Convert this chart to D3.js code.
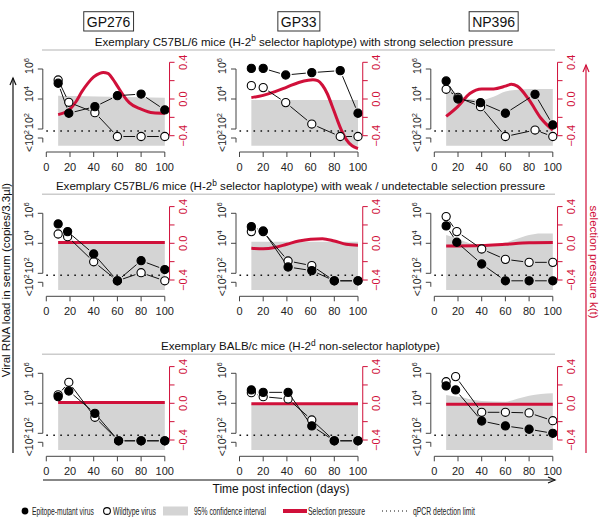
<!DOCTYPE html>
<html><head><meta charset="utf-8">
<script src="https://cdn.jsdelivr.net/npm/d3@7"></script>
<style>body{margin:0;background:#fff} text{font-family:"Liberation Sans",Arial,Helvetica,sans-serif}</style>
</head><body><svg id="c" width="600" height="518"></svg>
<script>
// ---------------- data ----------------
const columns = ["GP276", "GP33", "NP396"];
const titleMain = ["Exemplary C57BL/6 mice (H-2", "Exemplary C57BL/6 mice (H-2", "Exemplary BALB/c mice (H-2"];
const titleSup = ["b", "b", "d"];
const titleEnd = [" selector haplotype) with strong selection pressure",
                  " selector haplotype) with weak / undetectable selection pressure",
                  " non-selector haplotype)"];
const xTicks = [0, 20, 40, 60, 80, 100];
const yTicks = [2, 4, 6];            // log10 copies
const kTicks = [-0.4, -0.2, 0, 0.2, 0.4];
const kTickLabels = ["\u22120.4", "", "0.0", "", "0.4"];
const BDL = 1.5;                     // plotted position of "<10^2"
const LOD = 1.87;                    // qPCR detection limit (log10)
const legendLabels = ["Epitope-mutant virus", "Wildtype virus", "95% confidence interval", "Selection pressure", "qPCR detection limit"];

// indexed [row][col]
const mutantDays = [
  [[10,19,41,60,80,100],[10,20,39,61,85,100],[10,20,39,60,85,100]],
  [[10,18,40,60,80,100],[10,20,41,61,80,100],[10,19,40,60,80,100]],
  [[10,19,41,61,80,100],[10,20,41,61,80,100],[10,18,40,60,80,100]]];
const mutantLog = [
  [[5.05,3.05,3.49,4.22,4.33,3.27],[6.04,6.04,5.6,5.76,5.89,3.05],[5.2,4.0,3.76,3.05,4.31,2.27]],
  [[5.29,4.78,3.29,BDL,2.84,2.25],[5.11,4.82,2.42,2.18,BDL,BDL],[5.16,4.07,2.62,BDL,BDL,BDL]],
  [[4.44,4.82,3.33,BDL,BDL,BDL],[4.89,4.73,4.73,2.49,BDL,BDL],[5.16,4.89,2.82,2.49,2.27,2.0]]];
const wildDays = mutantDays;
const wildLog = [
  [[5.27,3.78,3.09,BDL,BDL,BDL],[4.89,4.76,3.76,2.33,BDL,BDL],[4.65,4.11,3.49,BDL,1.93,BDL]],
  [[4.62,4.44,2.77,BDL,2.04,BDL],[4.78,4.78,2.82,2.51,BDL,BDL],[5.78,4.78,3.62,2.93,2.73,2.73]],
  [[4.56,5.4,3.07,BDL,BDL,BDL],[4.71,4.44,4.29,2.89,BDL,BDL],[5.44,5.78,3.4,3.4,3.36,2.84]]];
const ciDays = [
  [[10,100],[10,100],[10,15,20,30,40,50,60,70,80,100]],
  [[10,100],[10,100],[10,20,30,40,50,60,70,80,90,100]],
  [[10,100],[10,100],[10,20,40,60,70,80,90,100]]];
const ciUpper = [
  [[4.22,4.09],[3.93,3.93],[4.75,4.6,4.3,4.0,3.95,4.15,4.5,4.62,4.66,4.67]],
  [[4.15,4.15],[4.11,4.11],[4.55,4.3,4.0,3.9,3.95,4.05,4.3,4.55,4.65,4.65]],
  [[4.11,4.11],[3.93,3.93],[4.56,4.44,4.16,4.11,4.3,4.5,4.62,4.67]]];
const kDays = [
  [[10,15,20,25,30,35,40,45,48,52,56,60,65,70,80,90,100],
   [10,20,30,40,50,58,62,66,70,74,78,82,86,90,95,100],
   [10,20,30,40,50,60,65,70,80,90,100]],
  [[10,100],[10,20,30,40,50,60,70,80,90,100],[10,40,60,80,100]],
  [[10,100],[10,100],[10,100]]];
const kValues = [
  [[-0.17,-0.15,-0.11,-0.03,0.08,0.17,0.24,0.28,0.29,0.28,0.22,0.14,0.04,-0.04,-0.11,-0.15,-0.155],
   [0.015,0.04,0.08,0.13,0.18,0.205,0.21,0.2,0.15,0.06,-0.07,-0.21,-0.34,-0.44,-0.51,-0.54],
   [-0.19,-0.08,0.06,0.11,0.11,0.14,0.16,0.14,-0.01,-0.21,-0.34]],
  [[0.01,0.01],[-0.055,-0.06,-0.045,-0.01,0.025,0.045,0.05,0.025,-0.01,-0.02],[-0.03,-0.025,-0.01,0.005,0.008]],
  [[0.01,0.01],[-0.005,-0.005],[-0.01,-0.01]]];

// ---------------- layout ----------------
const RED = "#d0103a", GREY = "#d4d4d4", AX = "#444";
const colX0 = [46.3, 239.5, 434.3];
const PX_PER_DAY = 1.185;
const rowY6 = [69, 213.3, 373.3];
const PX_PER_DECADE = 15;
const Y_BOTTOM = 0.887;
const yLabelShift = {6: -3, 4: -5, 2: -8};

const svg = d3.select("#c");
svg.append("rect").attr("width",600).attr("height",518).attr("fill","#fff");

function supLabel(g, x, y, base, sup, size, rot, color) {
  const t = g.append("text").attr("transform", `translate(${x},${y}) rotate(${rot})`)
    .attr("text-anchor","middle").attr("font-size",size).attr("fill",color);
  t.append("tspan").text(base);
  t.append("tspan").attr("dy",-size*0.4).attr("font-size",size*0.72).text(sup);
  return t;
}

function makeTitle(r, fs, cx, by) {
  const tt = svg.append("text").attr("x", cx).attr("y", by).attr("text-anchor","middle")
    .attr("font-size", fs).attr("fill","#111");
  tt.append("tspan").text(titleMain[r]);
  tt.append("tspan").attr("dy",-fs*0.4).attr("font-size",fs*0.72).text(titleSup[r]);
  tt.append("tspan").attr("dy",fs*0.4).text(titleEnd[r]);
  return tt;
}
const probe = makeTitle(1, 12, -1000, -1000);
const titleFS = 12 * 490 / probe.node().getComputedTextLength();
probe.remove();
const titleCX = [304, 300.5, 300.5];

for (let r = 0; r < 3; r++) {
  const y6 = rowY6[r];
  const y = d3.scaleLinear().domain([6, 2]).range([y6, y6 + 4*PX_PER_DECADE]);
  const yk = d3.scaleLinear().domain([0, 0.4]).range([y(4), y(4) - 36.7]);

  makeTitle(r, titleFS, titleCX[r], y6 - 23);
  svg.append("line").attr("x1",42).attr("x2",555).attr("y1",y6-19).attr("y2",y6-19)
    .attr("stroke","#cccccc").attr("stroke-width",1.5);

  for (let c = 0; c < 3; c++) {
    const x = d3.scaleLinear().domain([0,100]).range([colX0[c], colX0[c] + 100*PX_PER_DAY]);
    const g = svg.append("g");

    const ci = ciDays[r][c].map((d,i)=>[d, ciUpper[r][c][i]]);
    g.append("path").datum(ci).attr("fill", GREY)
      .attr("d", d3.area().x(d=>x(d[0])).y0(y(Y_BOTTOM)).y1(d=>y(d[1])).curve(d3.curveMonotoneX));

    g.append("line").attr("x1",x(0)).attr("x2",x(100)).attr("y1",y(LOD)).attr("y2",y(LOD))
      .attr("stroke","#111").attr("stroke-width",1.6).attr("stroke-dasharray","1.6,5.4");

    const kd = kDays[r][c].map((d,i)=>[d, kValues[r][c][i]]);
    g.append("path").datum(kd).attr("fill","none").attr("stroke",RED).attr("stroke-width",3)
      .attr("d", d3.line().x(d=>x(d[0])).y(d=>yk(d[1])).curve(d3.curveMonotoneX));

    const series = [
      {days: wildDays[r][c], vals: wildLog[r][c], fill: "#fff"},
      {days: mutantDays[r][c], vals: mutantLog[r][c], fill: "#000"}];
    series.forEach(s => {
      const pts = s.days.map((d,i)=>[x(d), y(s.vals[i])]);
      for (let i = 0; i < pts.length-1; i++) {
        const [x1,y1] = pts[i], [x2,y2] = pts[i+1];
        const dx = x2-x1, dy = y2-y1, L = Math.hypot(dx,dy), gap = 6;
        if (L > 2*gap) {
          g.append("line").attr("x1", x1+dx/L*gap).attr("y1", y1+dy/L*gap)
            .attr("x2", x2-dx/L*gap).attr("y2", y2-dy/L*gap)
            .attr("stroke","#111").attr("stroke-width",1);
        }
      }
    });
    series.forEach(s => {
      g.selectAll(null).data(s.days.map((d,i)=>[d, s.vals[i]])).enter().append("circle")
        .attr("cx", d=>x(d[0])).attr("cy", d=>y(d[1])).attr("r",4.1)
        .attr("fill", s.fill).attr("stroke","#000").attr("stroke-width",1.1);
    });

    // left axis
    const ax = x(0) - 3.5;
    g.append("line").attr("x1",ax).attr("x2",ax).attr("y1",y(6)).attr("y2",y(2)).attr("stroke",AX);
    yTicks.forEach(t => {
      g.append("line").attr("x1",ax-5).attr("x2",ax).attr("y1",y(t)).attr("y2",y(t)).attr("stroke",AX);
      supLabel(g, ax-10, y(t) + yLabelShift[t], "10", String(t), 10.5, -90, "#222");
    });
    g.append("line").attr("x1",ax).attr("x2",ax).attr("y1",y(1.4)).attr("y2",y(1.1)).attr("stroke",AX);
    g.append("line").attr("x1",ax-5).attr("x2",ax).attr("y1",y(1.4)).attr("y2",y(1.4)).attr("stroke",AX);
    supLabel(g, ax-10, y6 + 72, "<10", "2", 10.5, -90, "#222");

    // x axis
    const xa = y6 + 83;
    g.append("line").attr("x1",x(0)).attr("x2",x(100)).attr("y1",xa).attr("y2",xa).attr("stroke",AX);
    xTicks.forEach(t => {
      g.append("line").attr("x1",x(t)).attr("x2",x(t)).attr("y1",xa).attr("y2",xa+5).attr("stroke",AX);
      g.append("text").attr("x",x(t)).attr("y",xa+19).attr("text-anchor","middle")
        .attr("font-size",11).attr("fill","#222").text(t);
    });

    // right (red) axis
    const rx = x(104);
    g.append("line").attr("x1",rx).attr("x2",rx).attr("y1",yk(-0.4)).attr("y2",yk(0.4)).attr("stroke",RED);
    kTicks.forEach((t,i) => {
      g.append("line").attr("x1",rx).attr("x2",rx+5).attr("y1",yk(t)).attr("y2",yk(t)).attr("stroke",RED);
      if (kTickLabels[i]) g.append("text").attr("transform",`translate(${rx+17},${yk(t)}) rotate(-90)`)
        .attr("text-anchor","middle").attr("font-size",11).attr("fill",RED).text(kTickLabels[i]);
    });

    if (r === 0) {
      const cx = x(50) + (c===0?3:0);
      const ht = svg.append("text").attr("x",cx).attr("y",26.5).attr("text-anchor","middle")
        .attr("font-size",14).attr("fill","#111").text(columns[c]);
      const bb = ht.node().getBBox();
      svg.append("rect").attr("x",bb.x-3).attr("y",11.7).attr("width",bb.width+6).attr("height",19.3)
        .attr("fill","none").attr("stroke","#333").attr("stroke-width",1);
    }
  }
}

function arrowHead(x, y, dir, color) {
  const p = dir === "up" ? `M${x-3},${y+7}L${x},${y}L${x+3},${y+7}` : `M${x-7},${y-3}L${x},${y}L${x-7},${y+3}`;
  svg.append("path").attr("d",p).attr("fill","none").attr("stroke",color).attr("stroke-width",1.2);
}
svg.append("line").attr("x1",13).attr("x2",13).attr("y1",453).attr("y2",78).attr("stroke","#111").attr("stroke-width",1.2);
arrowHead(13,78,"up","#111");
svg.append("text").attr("transform","translate(10,280) rotate(-90)").attr("text-anchor","middle")
  .attr("font-size",11.5).attr("fill","#111").text("Viral RNA load in serum (copies/3.3\u00b5l)");

svg.append("line").attr("x1",586).attr("x2",586).attr("y1",453).attr("y2",65).attr("stroke",RED).attr("stroke-width",1.2);
arrowHead(586,65,"up",RED);
svg.append("text").attr("transform","translate(590,262) rotate(90)").attr("text-anchor","middle")
  .attr("font-size",11.5).attr("fill",RED).text("selection pressure k(t)");

svg.append("line").attr("x1",43).attr("x2",555).attr("y1",480).attr("y2",480).attr("stroke","#111").attr("stroke-width",1.2);
arrowHead(555,480,"right","#111");
svg.append("text").attr("x",281).attr("y",493).attr("text-anchor","middle").attr("font-size",12)
  .attr("fill","#111").text("Time post infection (days)");

const LY = 511;
svg.append("circle").attr("cx",25).attr("cy",LY).attr("r",3.4).attr("fill","#000");
svg.append("circle").attr("cx",107).attr("cy",LY).attr("r",3.4).attr("fill","#fff").attr("stroke","#000").attr("stroke-width",1.1);
svg.append("rect").attr("x",163).attr("y",506.5).attr("width",25).attr("height",9).attr("fill",GREY);
svg.append("line").attr("x1",283).attr("x2",307).attr("y1",LY).attr("y2",LY).attr("stroke",RED).attr("stroke-width",4);
svg.append("line").attr("x1",382).attr("x2",410).attr("y1",LY).attr("y2",LY).attr("stroke","#111").attr("stroke-width",1).attr("stroke-dasharray","1,3");
const legX = [32, 113, 194, 308, 413], legW = [62, 43, 72, 57, 62];
legendLabels.forEach((t,i) => {
  const tx = svg.append("text").attr("font-size",10).attr("fill","#222").text(t);
  const w = tx.node().getComputedTextLength();
  tx.attr("transform", `translate(${legX[i]},${LY+3.5}) scale(${legW[i]/w},1)`);
});
</script></body></html>
